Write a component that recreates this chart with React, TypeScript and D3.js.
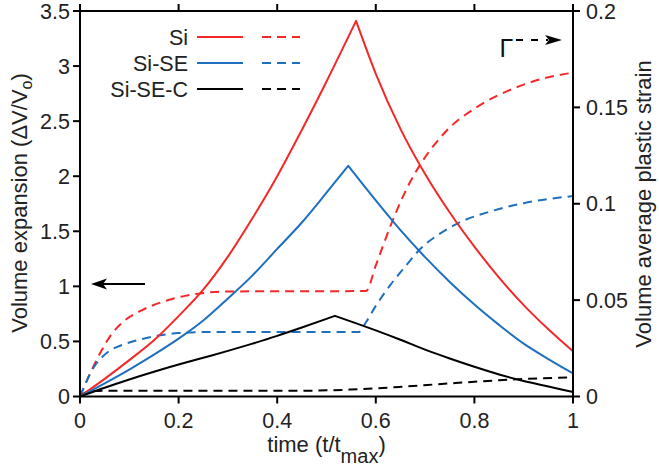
import React from "react";
import * as d3 from "d3";

type P = [number, number];

// x ticks (time t/tmax)
const xTicks = [0, 0.2, 0.4, 0.6, 0.8, 1];
const xTickLabels = ["0", "0.2", "0.4", "0.6", "0.8", "1"];
// left axis: volume expansion
const yLeftTicks = [0, 0.5, 1, 1.5, 2, 2.5, 3, 3.5];
const yLeftTickLabels = ["0", "0.5", "1", "1.5", "2", "2.5", "3", "3.5"];
// right axis: volume average plastic strain
const yRightTicks = [0, 0.05, 0.1, 0.15, 0.2];
const yRightTickLabels = ["0", "0.05", "0.1", "0.15", "0.2"];

const seriesNames = ["Si", "Si-SE", "Si-SE-C"];
const seriesColors = ["#f42828", "#1f6fbf", "#000000"];

// Volume expansion (solid, left axis)
const siExpansion: P[] = [
  [0, 0], [0.05, 0.16], [0.1, 0.33], [0.15, 0.51], [0.2, 0.73], [0.25, 0.97],
  [0.3, 1.27], [0.35, 1.62], [0.4, 2.0], [0.45, 2.42], [0.5, 2.86], [0.56, 3.41],
  [0.6, 2.93], [0.65, 2.43], [0.7, 2.02], [0.75, 1.67], [0.8, 1.36], [0.85, 1.08],
  [0.9, 0.83], [0.95, 0.61], [1, 0.41],
];
const siSeExpansion: P[] = [
  [0, 0], [0.05, 0.12], [0.1, 0.245], [0.15, 0.38], [0.2, 0.525], [0.25, 0.69],
  [0.3, 0.89], [0.35, 1.1], [0.4, 1.34], [0.45, 1.58], [0.5, 1.85], [0.544, 2.095],
  [0.6, 1.78], [0.65, 1.51], [0.7, 1.265], [0.75, 1.04], [0.8, 0.835], [0.85, 0.65],
  [0.9, 0.48], [0.95, 0.34], [1, 0.21],
];
const siSeCExpansion: P[] = [
  [0, 0], [0.05, 0.08], [0.1, 0.155], [0.15, 0.225], [0.2, 0.29], [0.25, 0.352],
  [0.3, 0.414], [0.35, 0.48], [0.4, 0.55], [0.45, 0.626], [0.5, 0.705], [0.517, 0.732],
  [0.6, 0.6], [0.65, 0.515], [0.7, 0.425], [0.75, 0.345], [0.8, 0.27], [0.85, 0.2],
  [0.9, 0.14], [0.95, 0.09], [1, 0.04],
];

// Volume average plastic strain (dashed, right axis)
const siStrain: P[] = [
  [0, 0], [0.017, 0.01], [0.044, 0.024], [0.064, 0.0323], [0.091, 0.0395],
  [0.125, 0.0447], [0.166, 0.049], [0.213, 0.0522], [0.247, 0.0536], [0.3, 0.0545],
  [0.58, 0.0547], [0.6, 0.068], [0.629, 0.088], [0.669, 0.111], [0.696, 0.1226],
  [0.744, 0.138], [0.804, 0.15], [0.872, 0.159], [0.94, 0.165], [1, 0.168],
];
const siSeStrain: P[] = [
  [0, 0], [0.01, 0.006], [0.02, 0.0115], [0.03, 0.016], [0.045, 0.0205],
  [0.06, 0.0237], [0.08, 0.0262], [0.1, 0.028], [0.125, 0.0298], [0.16, 0.0317],
  [0.2, 0.0329], [0.25, 0.0334], [0.565, 0.0334], [0.58, 0.0385], [0.6, 0.047],
  [0.63, 0.058], [0.66, 0.0675], [0.69, 0.0765], [0.73, 0.0845], [0.77, 0.0903],
  [0.83, 0.0958], [0.9, 0.1003], [1, 0.104],
];
const siSeCStrain: P[] = [
  [0, 0], [0.015, 0.0025], [0.05, 0.003], [0.45, 0.003], [0.55, 0.0036],
  [0.65, 0.005], [0.75, 0.0068], [0.85, 0.0084], [0.93, 0.0094], [1, 0.01],
];

const W = 659;
const H = 469;
const left = 80;
const right = 573;
const top = 11;
const bottom = 396.5;
const font = "'Liberation Sans', Arial, Helvetica, sans-serif";

export default function App() {
  const x = d3.scaleLinear().domain([0, 1]).range([left, right]);
  const yL = d3.scaleLinear().domain([0, 3.5]).range([bottom, top]);
  const yR = d3.scaleLinear().domain([0, 0.2]).range([bottom, top]);

  const genL = d3.line<P>().x((d) => x(d[0])).y((d) => yL(d[1])).curve(d3.curveMonotoneX);
  const genR = d3.line<P>().x((d) => x(d[0])).y((d) => yR(d[1])).curve(d3.curveMonotoneX);

  const peakPath = (data: P[]) => {
    const i = d3.maxIndex(data, (d) => d[1]);
    const a = genL(data.slice(0, i + 1)) || "";
    const b = (genL(data.slice(i)) || "").replace(/^M/, "L");
    return a + b;
  };

  const expansion = [siExpansion, siSeExpansion, siSeCExpansion];
  const strain = [siStrain, siSeStrain, siSeCStrain];
  const tickLen = 7;
  const fs = 21.5;
  const dash = "9,6";

  const legendY = [37, 63, 89];

  return (
    <svg
      width={W}
      height={H}
      style={{ position: "absolute", left: 0, top: 0, background: "#fff" }}
      fontFamily={font}
    >
      <rect x={0} y={0} width={W} height={H} fill="#fff" />
      {/* data lines */}
      {strain.map((d, k) => (
        <path
          key={"s" + k}
          d={genR(d) || ""}
          fill="none"
          stroke={seriesColors[k]}
          strokeWidth={2}
          strokeDasharray={dash}
        />
      ))}
      {expansion.map((d, k) => (
        <path
          key={"e" + k}
          d={peakPath(d)}
          fill="none"
          stroke={seriesColors[k]}
          strokeWidth={2}
          strokeLinejoin="round"
        />
      ))}

      {/* frame */}
      <rect x={left} y={top} width={right - left} height={bottom - top} fill="none" stroke="#000" strokeWidth={2} />

      {/* x ticks */}
      {xTicks.map((t, i) => (
        <g key={"x" + i}>
          <line x1={x(t)} x2={x(t)} y1={bottom} y2={bottom + tickLen} stroke="#000" strokeWidth={2} />
          <line x1={x(t)} x2={x(t)} y1={top} y2={top - tickLen} stroke="#000" strokeWidth={2} />
          <text x={x(t)} y={428} textAnchor="middle" fontSize={fs} fill="#222">
            {xTickLabels[i]}
          </text>
        </g>
      ))}
      {/* left ticks */}
      {yLeftTicks.map((v, i) => (
        <g key={"yl" + i}>
          <line x1={left - tickLen} x2={left} y1={yL(v)} y2={yL(v)} stroke="#000" strokeWidth={2} />
          <text x={70} y={yL(v)} dy="0.36em" textAnchor="end" fontSize={fs} fill="#222">
            {yLeftTickLabels[i]}
          </text>
        </g>
      ))}
      {/* right ticks */}
      {yRightTicks.map((v, i) => (
        <g key={"yr" + i}>
          <line x1={right} x2={right + tickLen} y1={yR(v)} y2={yR(v)} stroke="#000" strokeWidth={2} />
          <text x={586} y={yR(v)} dy="0.36em" textAnchor="start" fontSize={fs} fill="#222">
            {yRightTickLabels[i]}
          </text>
        </g>
      ))}

      {/* axis titles */}
      <text x={(left + right) / 2} y={452} textAnchor="middle" fontSize={22} fill="#222">
        <tspan>time (t/t</tspan>
        <tspan dy={11} fontSize={20}>max</tspan>
        <tspan dy={-11}>)</tspan>
      </text>
      <text transform={`translate(27,203) rotate(-90)`} textAnchor="middle" fontSize={22} fill="#222">
        <tspan>Volume expansion (ΔV/V</tspan>
        <tspan dy={5} fontSize={16}>o</tspan>
        <tspan dy={-5}>)</tspan>
      </text>
      <text transform={`translate(651,204) rotate(-90)`} textAnchor="middle" fontSize={22} fill="#222">
        Volume average plastic strain
      </text>

      {/* legend */}
      {seriesNames.map((n, k) => (
        <g key={"lg" + k}>
          <text x={188} y={legendY[k]} dy="0.36em" textAnchor="end" fontSize={fs} fill="#222">
            {n}
          </text>
          <line x1={197} x2={243} y1={legendY[k]} y2={legendY[k]} stroke={seriesColors[k]} strokeWidth={2} />
          <line
            x1={262}
            x2={300}
            y1={legendY[k]}
            y2={legendY[k]}
            stroke={seriesColors[k]}
            strokeWidth={2}
            strokeDasharray={dash}
          />
        </g>
      ))}

      {/* left arrow (solid -> left axis) */}
      <line x1={145} x2={100} y1={284} y2={284} stroke="#000" strokeWidth={2} />
      <path d="M91,284 L107,278.5 L103,284 L107,289.5 Z" fill="#000" />

      {/* right arrow (dashed -> right axis) */}
      <text x={499.5} y={57} fontSize={25} fill="#111">Γ</text>
      <line x1={516} x2={548} y1={40} y2={40} stroke="#000" strokeWidth={2} strokeDasharray="7,8" />
      <path d="M562,40 L545,35 L549,40 L545,45 Z" fill="#000" />
    </svg>
  );
}
